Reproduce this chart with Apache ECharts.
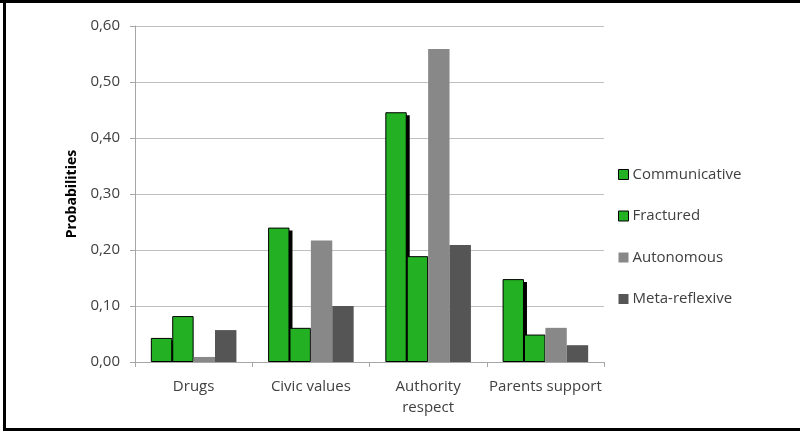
<!DOCTYPE html>
<html>
<head>
<meta charset="utf-8">
<script src="https://cdn.jsdelivr.net/npm/echarts@6/dist/echarts.min.js"></script>
<style>
html,body{margin:0;padding:0;background:#fff;}
#chart{width:800px;height:431px;}
</style>
</head>
<body>
<div id="chart"></div>
<script>
const categories = ['Drugs', 'Civic values', 'Authority\nrespect', 'Parents support'];
const communicative = [0.043, 0.240, 0.446, 0.148];
const fractured = [0.082, 0.061, 0.189, 0.049];
const autonomous = [0.009, 0.217, 0.559, 0.061];
const metaReflexive = [0.057, 0.100, 0.209, 0.030];
const yTicks = { min: 0, max: 0.6, interval: 0.1 };

const FONT = 'Open Sans';
const CAT_GAP = 0.27;
const N_SERIES = 4;
const chart = echarts.init(document.getElementById('chart'));
const green = '#23b023';
chart.setOption({
  animation: false,
  textStyle: { fontFamily: FONT },
  graphic: [
    { type: 'rect', shape: { x: 0, y: 0, width: 800, height: 3 }, style: { fill: '#000' } },
    { type: 'rect', shape: { x: 3, y: 0, width: 3, height: 431 }, style: { fill: '#000' } },
    { type: 'rect', shape: { x: 3, y: 428, width: 797, height: 3 }, style: { fill: '#000' } }
  ],
  grid: { left: 135, right: 196, top: 26, bottom: 69 },
  legend: {
    orient: 'vertical',
    left: 613,
    top: 161,
    itemWidth: 10,
    itemHeight: 10,
    itemGap: 24.5,
    icon: 'rect',
    textStyle: { fontFamily: FONT, fontSize: 15, color: '#404040', lineHeight: 17, padding: [0, 0, 0, -1] },
    data: [
      { name: 'Communicative', itemStyle: { color: green, borderColor: '#000', borderWidth: 1 } },
      { name: 'Fractured', itemStyle: { color: green, borderColor: '#000', borderWidth: 1 } },
      { name: 'Autonomous', itemStyle: { color: '#888888' } },
      { name: 'Meta-reflexive', itemStyle: { color: '#555555' } }
    ]
  },
  xAxis: {
    type: 'category',
    data: categories,
    boundaryGap: true,
    axisLine: { lineStyle: { color: '#a6a6a6', width: 1 } },
    axisTick: { show: true, length: 5, lineStyle: { color: '#a6a6a6' } },
    axisLabel: { fontFamily: FONT, fontSize: 15, color: '#404040', margin: 14, lineHeight: 21, interval: 0 }
  },
  yAxis: {
    type: 'value',
    min: yTicks.min,
    max: yTicks.max,
    interval: yTicks.interval,
    name: 'Probabilities',
    nameLocation: 'middle',
    nameGap: 54,
    nameTextStyle: { fontFamily: FONT, fontSize: 14, fontWeight: 'bold', color: '#000' },
    axisLine: { show: true, lineStyle: { color: '#a6a6a6' } },
    axisTick: { show: true, length: 5, lineStyle: { color: '#a6a6a6' } },
    splitLine: { lineStyle: { color: '#c0c0c0' } },
    axisLabel: {
      fontFamily: FONT, fontSize: 15, color: '#404040', margin: 15,
      formatter: v => v.toFixed(2).replace('.', ',')
    }
  },
  series: [
    {
      name: 'Communicative', type: 'bar', data: communicative,
      barGap: '0%', barCategoryGap: (CAT_GAP * 100) + '%', z: 3,
      itemStyle: { color: green, borderColor: '#000', borderWidth: 1 }
    },
    {
      name: 'Fractured', type: 'bar', data: fractured, z: 4,
      itemStyle: { color: green, borderColor: '#000', borderWidth: 1 }
    },
    {
      name: 'Autonomous', type: 'bar', data: autonomous, z: 4,
      itemStyle: { color: '#888888' }
    },
    {
      name: 'Meta-reflexive', type: 'bar', data: metaReflexive, z: 4,
      itemStyle: { color: '#555555' }
    },
    {
      name: 'shadow', type: 'custom', z: 2, silent: true,
      data: communicative.map((v, i) => [i, v]),
      encode: { x: 0, y: 1 },
      renderItem: function (params, api) {
        const top = api.coord([api.value(0), api.value(1)]);
        const base = api.coord([api.value(0), 0]);
        const band = api.size([1, 0])[0];
        const groupW = band * (1 - CAT_GAP);
        const barW = groupW / N_SERIES;
        const left = top[0] - groupW / 2;
        return {
          type: 'rect',
          shape: { x: left + 3, y: top[1] + 3, width: barW, height: base[1] - top[1] - 3 },
          style: { fill: '#000' }
        };
      }
    }
  ]
});
</script>
</body>
</html>
